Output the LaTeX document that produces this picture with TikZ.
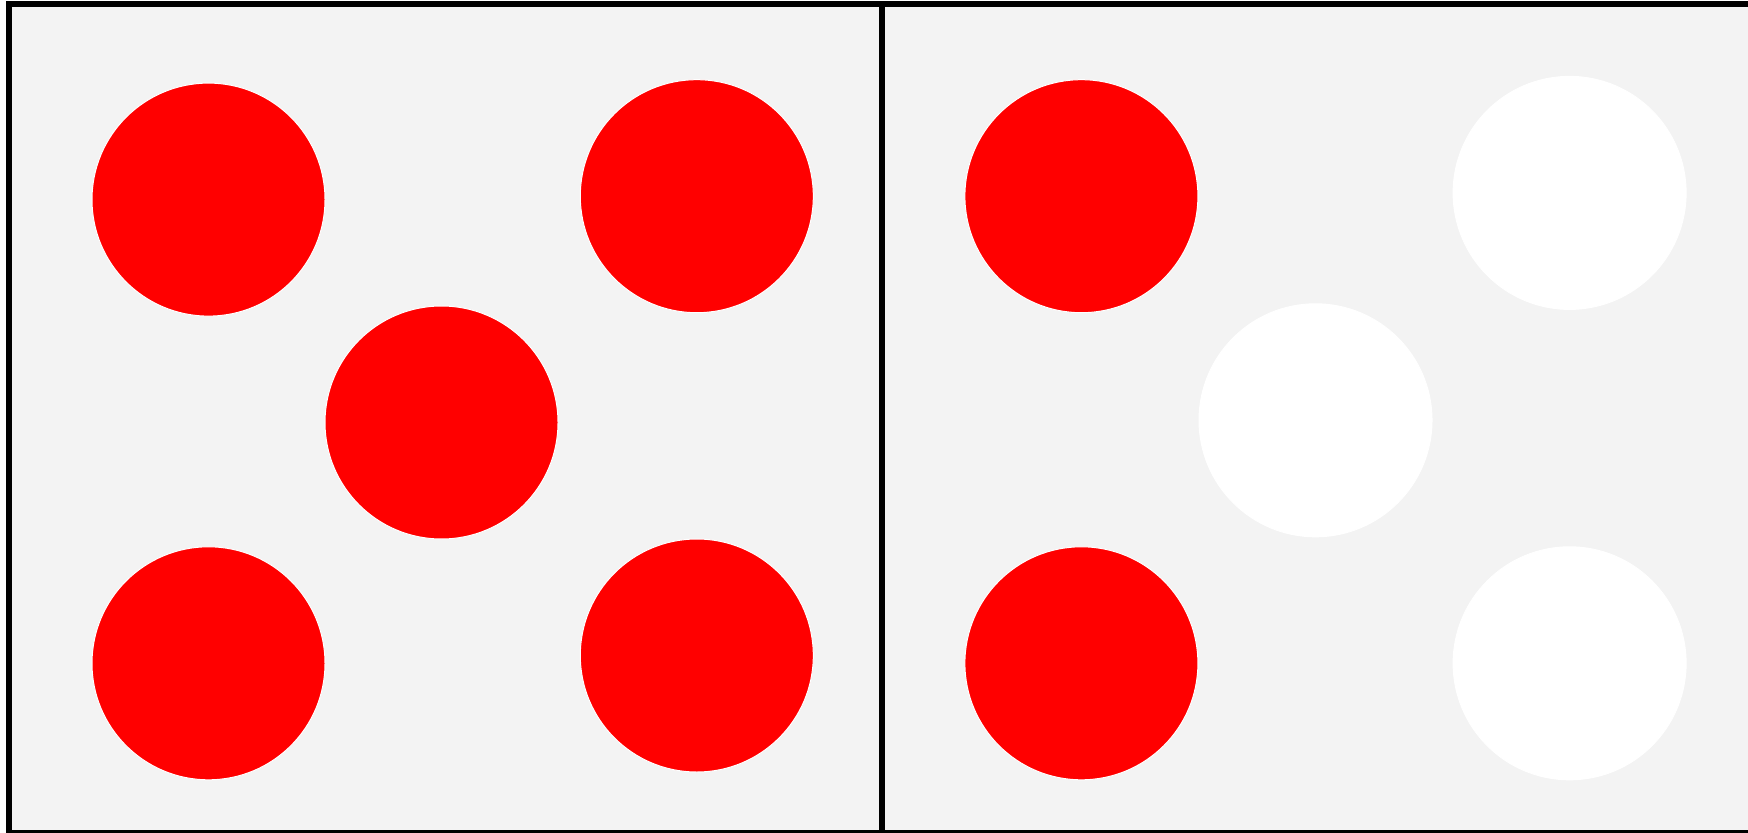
\documentclass[tikz,border=0pt]{standalone}
\usetikzlibrary{positioning}
\definecolor{panelgray}{HTML}{F3F3F3}
\definecolor{dotred}{HTML}{FF0000}

\begin{document}
\begin{tikzpicture}[
  x=0.5pt, y=-0.5pt,
  dot/.style={circle, inner sep=0pt, minimum size=116.5pt, draw=white, line width=0.5pt},
  lit/.style={dot, fill=dotred},
  unlit/.style={dot, fill=white},
  frame/.style={draw=black, line width=3pt}
]
\useasboundingbox (0,0) rectangle (1748,833);
\clip (0,0) rectangle (1748,833);

% panels
\fill[panelgray] (9,4.5) rectangle (1754,833);
\draw[frame] (9,4.5) rectangle (1754,833);
\draw[frame] (881.5,4.5) -- (881.5,833);

% left panel: five of five
\node[lit] (l1) at (208.5,199.6) {};
\node[lit] (l2) at (696.8,196.2) {};
\node[lit] (l3) at (441.5,422.5) {};
\node[lit] (l4) at (208.5,663.3) {};
\node[lit] (l5) at (696.8,655.5) {};

% right panel: two of five
\node[lit]   (r1) at (1081.4,196.2) {};
\node[unlit] (r2) at (1569.6,192.9) {};
\node[unlit] (r3) at (1315.5,420.3) {};
\node[lit]   (r4) at (1081.4,663.3) {};
\node[unlit] (r5) at (1569.6,663.3) {};

\end{tikzpicture}
\end{document}
